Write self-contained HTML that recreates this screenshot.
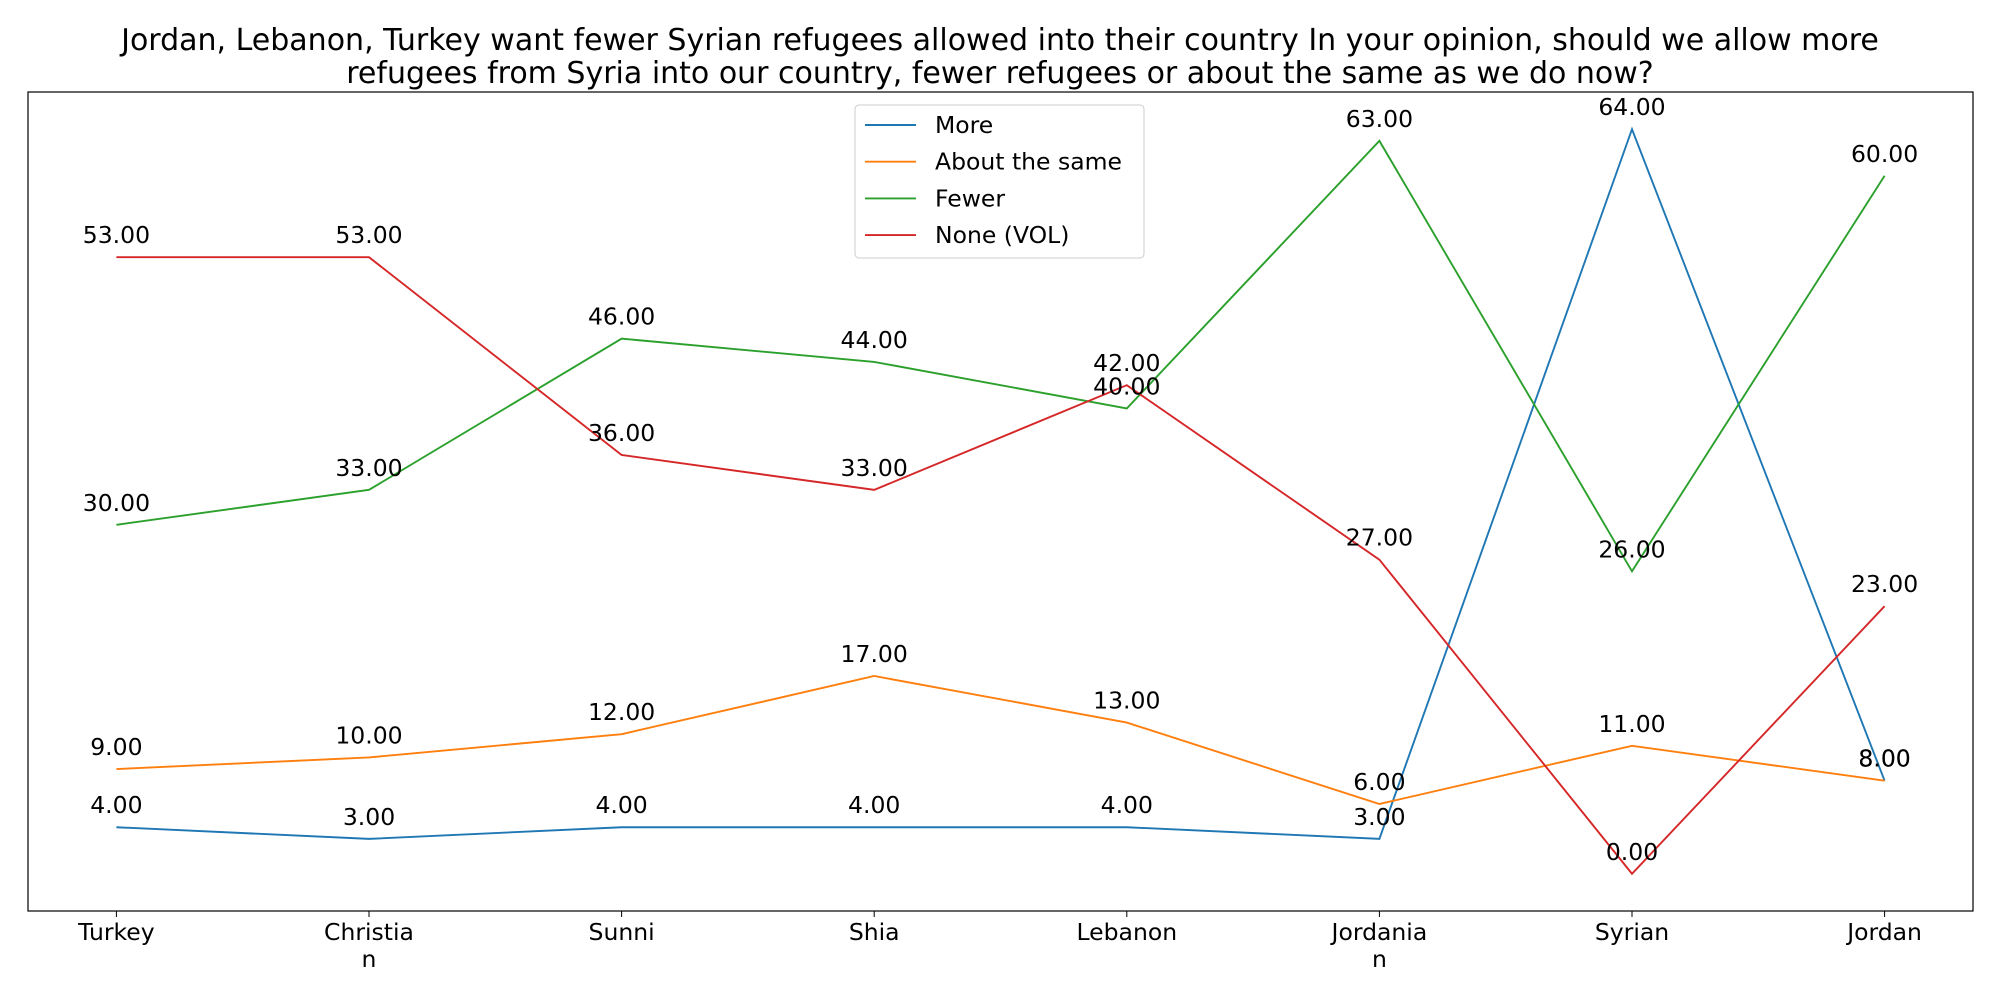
<!DOCTYPE html>
<html><head><meta charset="utf-8"><style>
html,body{margin:0;padding:0;background:#fff;}
svg text{font-family:"DejaVu Sans","Liberation Sans",sans-serif;}
</style></head><body>
<svg id="chart" width="2000" height="1000" xmlns="http://www.w3.org/2000/svg">
<rect width="2000" height="1000" fill="#fff"/>
<text x="1000" y="50" text-anchor="middle" font-size="30">Jordan, Lebanon, Turkey want fewer Syrian refugees allowed into their country In your opinion, should we allow more</text>
<text x="1000" y="83" text-anchor="middle" font-size="30">refugees from Syria into our country, fewer refugees or about the same as we do now?</text>
<g id="plot"></g>
<rect x="28" y="92" width="1945" height="819" fill="none" stroke="#000" stroke-width="1.2"/>
</svg>
<script>
const categories = ["Turkey","Christia\nn","Sunni","Shia","Lebanon","Jordania\nn","Syrian","Jordan"];
const seriesNames = ["More","About the same","Fewer","None (VOL)"];
const moreVals = [4,3,4,4,4,3,64,8];
const sameVals = [9,10,12,17,13,6,11,8];
const fewerVals = [30,33,46,44,40,63,26,60];
const noneVals = [53,53,36,33,42,27,0,23];
const colors = ["#1f77b4","#ff7f0e","#2ca02c","#d62728"];
const allSeries = [moreVals, sameVals, fewerVals, noneVals];

const L=28,R=1973,T=92,B=911;
const yMin=-3.2,yMax=67.2;
const n=categories.length;
const xMin=-0.35,xMax=n-1+0.35;
function xs(i){return L+(i-xMin)/(xMax-xMin)*(R-L);}
function ys(v){return B-(v-yMin)/(yMax-yMin)*(B-T);}
const NS="http://www.w3.org/2000/svg";
const g=document.getElementById('plot');
function mk(tag,attrs){const e=document.createElementNS(NS,tag);for(const k in attrs)e.setAttribute(k,attrs[k]);return e;}

categories.forEach((c,i)=>{
  const x=xs(i);
  const t=mk('line',{x1:x,x2:x,y1:B,y2:B+6,stroke:'#000','stroke-width':1});
  
  
  g.appendChild(t);
  c.split('\n').forEach((ln,j)=>{
    const tx=mk('text',{x:x,y:940+j*27,'text-anchor':'middle','font-size':23.5});
    tx.textContent=ln;
    
    
    g.appendChild(tx);
  });
});

allSeries.forEach((vals,s)=>{
  const pts=vals.map((v,i)=>xs(i)+','+ys(v)).join(' ');
  const pl=mk('polyline',{points:pts,fill:'none',stroke:colors[s],'stroke-width':1.9});
  
  
  g.appendChild(pl);
});
allSeries.forEach((vals,s)=>{
  vals.forEach((v,i)=>{
    const tx=mk('text',{x:xs(i),y:ys(v)-14,'text-anchor':'middle','font-size':23.5});
    tx.textContent=v.toFixed(2);
    
    
    g.appendChild(tx);
  });
});

const lg=mk('g',{});


g.appendChild(lg);
lg.appendChild(mk('rect',{x:855,y:105,width:289,height:153,rx:4,fill:'#fff','fill-opacity':0.8,stroke:'#ccc','stroke-width':1}));
seriesNames.forEach((nm,s)=>{
  const y=125+s*36.7;
  const ent=mk('g',{});
  
  
  ent.appendChild(mk('line',{x1:865,x2:916,y1:y,y2:y,stroke:colors[s],'stroke-width':1.9}));
  const tx=mk('text',{x:935,y:y+8,'font-size':23.5});
  tx.textContent=nm;
  ent.appendChild(tx);
  lg.appendChild(ent);
});
</script>
</body></html>
